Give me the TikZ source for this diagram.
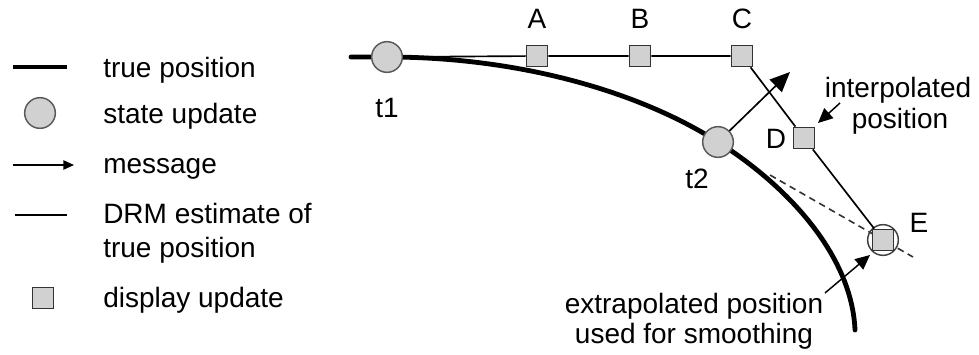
\documentclass[tikz,border=0pt]{standalone}
\usepackage{fontspec}
\setmainfont{Liberation Sans}
\usetikzlibrary{arrows.meta}

\begin{document}
\begin{tikzpicture}[x=0.75pt,y=-0.75pt,
  every node/.style={font=\fontsize{21}{25}\selectfont},
  truepath/.style={line width=3.6pt, line cap=round},
  drm/.style={line width=1.25pt},
  extrap/.style={line width=1.2pt, dash pattern=on 5pt off 3.5pt, black!80},
  state/.style={circle, draw=black!65, line width=1.1pt, fill=black!18,
                minimum size=23pt, inner sep=0pt},
  disp/.style={rectangle, draw=black!80, line width=1.1pt, fill=black!18,
               minimum size=16pt, inner sep=0pt},
  msg/.style={line width=1.25pt, -{Triangle[length=15pt,width=13pt]}},
  note/.style={line width=1.1pt, -{Triangle[length=11pt,width=10pt]}},
  lbl/.style={inner sep=0pt, anchor=base},
  legtxt/.style={inner sep=0pt, anchor=base west},
]
\useasboundingbox (0,0) rectangle (979,354);

% ---- legend ----
\coordinate (lt0) at (13,67);  \coordinate (lt1) at (67,67);
\draw[truepath, line cap=butt] (lt0) -- (lt1);
\node[legtxt] (ltxt1) at (103,77) {true position};

\node[state] (lstate) at (40,113) {};
\node[legtxt] (ltxt2) at (103,123) {state update};

\coordinate (lm0) at (13,165); \coordinate (lm1) at (74,165);
\draw[line width=1.2pt, -{Triangle[length=8pt,width=7pt]}] (lm0) -- (lm1);
\node[legtxt] (ltxt3) at (103,173) {message};

\coordinate (ld0) at (15,215); \coordinate (ld1) at (67,215);
\draw[drm] (ld0) -- (ld1);
\node[legtxt] (ltxt4) at (103,223) {DRM estimate of};
\node[legtxt] (ltxt5) at (103,257) {true position};

\node[disp] (ldisp) at (43,298) {};
\node[legtxt] (ltxt6) at (103,307) {display update};

% ---- true position curve ----
\coordinate (c0) at (351,57);
\coordinate (p1) at (387,57);
\coordinate (p2) at (718,142);
\coordinate (cend) at (855,330);
\draw[truepath] (c0) -- (p1)
  .. controls (520,57) and (640,92) .. (p2)
  .. controls (792,189) and (852,258) .. (cend);

% extrapolated direction from t2
\coordinate (x0) at (770,175);
\coordinate (x1) at (913,257);
\draw[extrap] (x0) -- (x1);

% ---- state updates ----
\node[state] (t1) at (p1) {};
\node[state] (t2) at (p2) {};
\node[lbl] (t1l) at (387,117) {t1};
\node[lbl] (t2l) at (697,188) {t2};

% ---- display updates ----
\node[state, fill=none, draw=black!75] (Ec) at (883,240) {};
\node[disp] (A) at (537,56) {};
\node[disp] (B) at (640,56) {};
\node[disp] (C) at (742,56) {};
\node[disp] (D) at (804,138) {};
\node[disp] (E) at (883,240) {};

\node[lbl] (Al) at (537,28) {A};
\node[lbl] (Bl) at (640,28) {B};
\node[lbl] (Cl) at (742,28) {C};
\node[lbl] (Dl) at (776,148) {D};
\node[lbl] (El) at (919,232) {E};

% DRM estimate
\draw[drm] (t1) -- (A) -- (B) -- (C) -- (D) -- (E);

% message sent at t2
\coordinate (mtip) at (790,72);
\draw[msg] (t2) -- (mtip);

% annotations
\node[lbl] (ip1) at (898,97) {interpolated};
\node[lbl] (ip2) at (900,128) {position};
\coordinate (ia0) at (840,103); \coordinate (ia1) at (818,123);
\draw[note] (ia0) -- (ia1);

\node[lbl] (ep1) at (694,313) {extrapolated position};
\node[lbl] (ep2) at (694,343) {used for smoothing};
\coordinate (ea0) at (825,293); \coordinate (ea1) at (870,255);
\draw[note] (ea0) -- (ea1);
\end{tikzpicture}
\end{document}
